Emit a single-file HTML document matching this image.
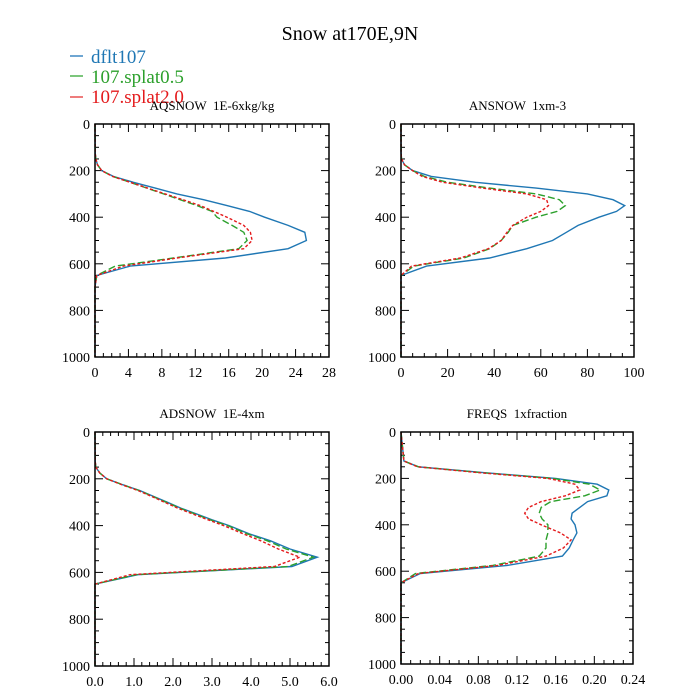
<!DOCTYPE html>
<html><head><meta charset="utf-8"><style>
body{margin:0;background:#fff}
svg{display:block;font-family:"Liberation Serif",serif}
text{white-space:pre}
</style></head><body>
<svg id="c" width="700" height="700" viewBox="0 0 700 700">
<text x="350" y="40" font-size="20" text-anchor="middle">Snow at170E,9N</text>
<g>
<line x1="70" y1="56" x2="83" y2="56" stroke="#6fa6d2" stroke-width="2"/>
<text x="91" y="63" font-size="19" fill="#1f77b4">dflt107</text>
<line x1="70" y1="76" x2="83" y2="76" stroke="#7cc67c" stroke-width="2"/>
<text x="91" y="83" font-size="19" fill="#2ca02c">107.splat0.5</text>
<line x1="70" y1="97" x2="83" y2="97" stroke="#ee7c7c" stroke-width="2"/>
<text x="91" y="103" font-size="19" fill="#e41a1c">107.splat2.0</text>
</g>
</svg>
<script>
const levels=[0,125,150,175,200,225,250,275,300,325,350,375,400,435,465,500,535,575,610,650,700,850,1000];
const aqBlue=[0,0.02,0.1,0.3,0.8,2.2,4.6,7.2,9.8,13,15.8,18.5,20.3,23.1,25.1,25.3,23.1,15.6,4.2,0.2,0,0,0];
const aqGreen=[0,0.02,0.1,0.3,0.8,2.1,4.2,6.2,8.2,10.2,12.2,14,14.6,16.4,17.8,18.2,17.2,9.4,2.4,0.2,0,0,0];
const aqRed=[0,0.02,0.1,0.3,0.8,2.1,4.2,6.3,8.4,10.5,12.6,14.2,15.8,17.8,18.6,18.8,17.8,9.8,3.4,0.2,0,0,0];
const anBlue=[0,0.05,0.2,1.5,5,13,32,58,80,91,96,92.5,85,76,71,65,54,38,11,0,0,0,0];
const anGreen=[0,0.05,0.2,1.5,5,10,20,38,58,68,70.5,67,58,48,46,43,38,27,5.5,0,0,0,0];
const anRed=[0,0.05,0.2,1.5,5,9,18,35,54,62.5,63.3,60,54,48,45.5,43,37.5,25.5,4.5,0,0,0,0];
const adBlue=[0,0.005,0.02,0.12,0.3,0.7,1.15,1.5,1.85,2.2,2.6,3,3.44,3.95,4.5,5.0,5.7,5.05,1.1,0,0,0,0];
const adGreen=[0,0.005,0.02,0.12,0.3,0.7,1.13,1.48,1.82,2.17,2.56,2.95,3.4,3.9,4.42,4.9,5.6,4.95,1.05,0,0,0,0];
const adRed=[0,0.005,0.02,0.12,0.3,0.68,1.1,1.45,1.78,2.12,2.5,2.9,3.3,3.8,4.25,4.7,5.25,4.6,0.9,0,0,0,0];
const frBlue=[0,0.003,0.018,0.085,0.16,0.203,0.215,0.213,0.193,0.185,0.177,0.176,0.18,0.182,0.178,0.174,0.167,0.11,0.02,0,0,0,0];
const frGreen=[0,0.003,0.018,0.083,0.157,0.195,0.206,0.19,0.155,0.145,0.143,0.146,0.152,0.152,0.15,0.15,0.143,0.095,0.015,0,0,0,0];
const frRed=[0,0.003,0.017,0.08,0.152,0.18,0.185,0.17,0.145,0.132,0.128,0.132,0.145,0.165,0.176,0.168,0.15,0.1,0.018,0,0,0,0];
const yTicks=[0,200,400,600,800,1000];
const panels=[
 {name:"aqsnow",title:"AQSNOW  1E-6xkg/kg",L:95,R:329,T:124,B:357,xmax:28,major:4,minor:1,labels:["0","4","8","12","16","20","24","28"],s:[aqBlue,aqGreen,aqRed]},
 {name:"ansnow",title:"ANSNOW  1xm-3",L:401,R:634,T:124,B:357,xmax:100,major:20,minor:5,labels:["0","20","40","60","80","100"],s:[anBlue,anGreen,anRed]},
 {name:"adsnow",title:"ADSNOW  1E-4xm",L:95,R:329,T:432,B:666,xmax:6,major:1,minor:0.2,labels:["0.0","1.0","2.0","3.0","4.0","5.0","6.0"],s:[adBlue,adGreen,adRed]},
 {name:"freqs",title:"FREQS  1xfraction",L:401,R:633,T:432,B:664,xmax:0.24,major:0.04,minor:0.01,labels:["0.00","0.04","0.08","0.12","0.16","0.20","0.24"],s:[frBlue,frGreen,frRed]}
];
const colors=["#1f77b4","#2ca02c","#e41a1c"];
const dashes=["","7,3","3,2"];
const sNames=["dflt107","splat0-5","splat2-0"];
const svg=document.getElementById('c');
const NS="http://www.w3.org/2000/svg";
function mk(t,a,p){const e=document.createElementNS(NS,t);for(const k in a)e.setAttribute(k,a[k]);(p||svg).appendChild(e);return e;}
panels.forEach(p=>{
 const g=mk('g',{});
 
 
 const sx=v=>p.L+v/p.xmax*(p.R-p.L);
 const sy=v=>p.T+v/1000*(p.B-p.T);
 const tt=mk('text',{x:(p.L+p.R)/2,y:p.T-14,'font-size':13,'text-anchor':'middle'},g);
 tt.textContent=p.title;
 
 
 for(let v=0;v<=1000;v+=50){
  const len=v%200===0?8:4;
  mk('line',{x1:p.L,x2:p.L+len,y1:sy(v),y2:sy(v),stroke:'#000','stroke-width':1},g);
  mk('line',{x1:p.R,x2:p.R-len,y1:sy(v),y2:sy(v),stroke:'#000','stroke-width':1},g);
 }
 yTicks.forEach(v=>{
  const t=mk('text',{x:p.L-5,y:sy(v)+5,'font-size':14,'text-anchor':'end'},g);
  t.textContent=String(v);
  
  
 });
 const nMin=Math.round(p.xmax/p.minor), per=Math.round(p.major/p.minor);
 for(let i=0;i<=nMin;i++){
  const x=sx(i*p.minor), len=i%per===0?8:4;
  mk('line',{x1:x,x2:x,y1:p.B,y2:p.B-len,stroke:'#000','stroke-width':1},g);
  mk('line',{x1:x,x2:x,y1:p.T,y2:p.T+len,stroke:'#000','stroke-width':1},g);
 }
 p.labels.forEach((lb,i)=>{
  const t=mk('text',{x:sx(i*p.major),y:p.B+20,'font-size':14,'text-anchor':'middle'},g);
  t.textContent=lb;
  
  
 });
 p.s.forEach((arr,k)=>{
  const pts=arr.map((v,i)=>sx(v).toFixed(1)+','+sy(levels[i]).toFixed(1)).join(' ');
  const pl=mk('polyline',{points:pts,fill:'none',stroke:colors[k],'stroke-width':1.4},g);
  if(dashes[k])pl.setAttribute('stroke-dasharray',dashes[k]);
  
  
 });
 const fr=mk('rect',{x:p.L,y:p.T,width:p.R-p.L,height:p.B-p.T,fill:'none',stroke:'#000','stroke-width':1.5},g);
 
 
});
</script>
</body></html>
